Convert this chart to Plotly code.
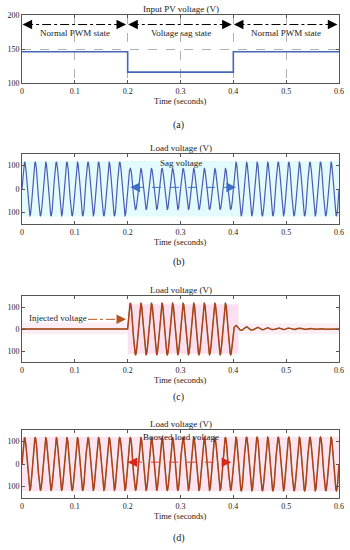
import numpy as np
import plotly.graph_objects as go

# ---------------- data ----------------
T_END = 0.6
FREQ = 50  # Hz
x_ticks = [0, 0.1, 0.2, 0.3, 0.4, 0.5, 0.6]
x_ticktext = ["0", "0.1", "0.2", "0.3", "0.4", "0.5", "0.6"]

# (a) input PV voltage, piecewise constant
a_times = [0.0, 0.2, 0.2, 0.4, 0.4, 0.6]
a_volts = [146, 146, 116, 116, 146, 146]
a_yticks = [100, 150, 200]

# (b) load voltage amplitude per state segment
b_seg_start = [0.0, 0.2, 0.4]
b_seg_end = [0.2, 0.4, 0.6]
b_seg_amp = [115, 88, 115]

# (c) injected voltage: sinusoid during sag, damped ripple afterwards
c_seg_start = [0.0, 0.2]
c_seg_end = [0.2, 0.4]
c_seg_amp = [0, 117]
c_ripple_start = 0.4
c_ripple_peaks = [16, -6, 10, -5, 8, -4, 6, -3, 5, -3, 4, -2, 4, -2, 3, -2, 3, -1, 2, -1]

# (d) boosted load voltage
d_seg_start = [0.0, 0.2, 0.4]
d_seg_end = [0.2, 0.4, 0.6]
d_seg_amp = [116, 116, 118]

v_yticks = [-100, 0, 100]
v_ticktext = ["100", "0", "100"]

# ---------------- helpers ----------------
t = np.linspace(0, T_END, 4801)


def seg_wave(starts, ends, amps):
    v = np.zeros_like(t)
    for s, e, a in zip(starts, ends, amps):
        m = (t >= s) & (t <= e)
        v[m] = a * np.sin(2 * np.pi * FREQ * t[m])
    return v


def ripple(start, peaks):
    v = np.zeros_like(t)
    half = 1.0 / FREQ / 2
    for k, p in enumerate(peaks):
        t0 = start + k * half
        m = (t >= t0) & (t <= t0 + half)
        v[m] = p * np.sin(np.pi * (t[m] - t0) / half)
    return v


b_wave = seg_wave(b_seg_start, b_seg_end, b_seg_amp)
c_wave = seg_wave(c_seg_start, c_seg_end, c_seg_amp) + ripple(c_ripple_start, c_ripple_peaks)
d_wave = seg_wave(d_seg_start, d_seg_end, d_seg_amp)

FONT = "Liberation Serif"
W, H = 350, 550
x0, x1 = 22 / W, 339 / W


def pdom(top_px, bot_px):
    return [1 - bot_px / H, 1 - top_px / H]


panels = {
    1: (15, 83),
    2: (154, 224),
    3: (296, 362),
    4: (430, 498),
}

fig = go.Figure()

# (a)
fig.add_trace(go.Scatter(x=a_times, y=a_volts, mode="lines",
                         line=dict(color="#4668b4", width=1.6), xaxis="x", yaxis="y"))
for s, e in [(0.0, 0.2), (0.2, 0.4), (0.4, 0.6)]:
    fig.add_trace(go.Scatter(x=[s + 0.004, e - 0.004], y=[186, 186], mode="lines",
                             line=dict(color="black", width=1, dash="dashdot"),
                             xaxis="x", yaxis="y"))

# (b)
fig.add_trace(go.Scatter(x=t, y=b_wave, mode="lines",
                         line=dict(color="#4a5cb4", width=1.2), xaxis="x2", yaxis="y2"))
fig.add_trace(go.Scatter(x=[0.212, 0.395], y=[7, 7], mode="lines",
                         line=dict(color="#3f6fc4", width=1, dash="dash"),
                         xaxis="x2", yaxis="y2"))

# (c)
fig.add_trace(go.Scatter(x=t, y=c_wave, mode="lines",
                         line=dict(color="#806018", width=1.5), xaxis="x3", yaxis="y3"))
fig.add_trace(go.Scatter(x=t, y=c_wave, mode="lines",
                         line=dict(color="#d42a1e", width=0.7), xaxis="x3", yaxis="y3"))
fig.add_trace(go.Scatter(x=[0.125, 0.185], y=[44, 44], mode="lines",
                         line=dict(color="#b8541e", width=1, dash="dashdot"),
                         xaxis="x3", yaxis="y3"))

# (d)
fig.add_trace(go.Scatter(x=t, y=d_wave, mode="lines",
                         line=dict(color="#806018", width=1.5), xaxis="x4", yaxis="y4"))
fig.add_trace(go.Scatter(x=t, y=d_wave, mode="lines",
                         line=dict(color="#d42a1e", width=0.7), xaxis="x4", yaxis="y4"))
fig.add_trace(go.Scatter(x=[0.21, 0.385], y=[8, 8], mode="lines",
                         line=dict(color="#e0402a", width=1, dash="dash"),
                         xaxis="x4", yaxis="y4"))

axis_common = dict(showline=True, linecolor="#555555", linewidth=1, mirror="ticks",
                   ticks="inside", ticklen=3, tickcolor="#555555", automargin=False,
                   tickfont=dict(family=FONT, size=8, color="#222"), zeroline=False)

layout = dict(width=W, height=H, margin=dict(l=0, r=0, t=0, b=0, pad=0),
              paper_bgcolor="white", plot_bgcolor="white", showlegend=False,
              font=dict(family=FONT, color="#222"))

for i, (tp, bp) in panels.items():
    xa = "xaxis" if i == 1 else f"xaxis{i}"
    ya = "yaxis" if i == 1 else f"yaxis{i}"
    yname = "y" if i == 1 else f"y{i}"
    xname = "x" if i == 1 else f"x{i}"
    layout[xa] = dict(axis_common, domain=[x0, x1], anchor=yname, range=[0, T_END],
                      tickvals=x_ticks, ticktext=x_ticktext,
                      showgrid=(i == 1), gridcolor="#b0b0b0", griddash="dash", gridwidth=1)
    if i == 1:
        layout[ya] = dict(axis_common, domain=pdom(tp, bp), anchor=xname, range=[100, 200],
                          tickvals=a_yticks, showgrid=True, gridcolor="#b0b0b0",
                          griddash="dash", gridwidth=1)
    else:
        layout[ya] = dict(axis_common, domain=pdom(tp, bp), anchor=xname, range=[-150, 150],
                          tickvals=v_yticks, ticktext=v_ticktext, showgrid=False)

fig.update_layout(**layout)

shapes = [
    dict(type="rect", xref="x2", yref="y2", x0=0, x1=0.6, y0=-118, y1=120,
         fillcolor="#e4fbfe", line_width=0, layer="below"),
    dict(type="rect", xref="x3", yref="y3", x0=0.2, x1=0.41, y0=-112, y1=112,
         fillcolor="#fde0f0", line_width=0, layer="below"),
    dict(type="rect", xref="x3", yref="y3", x0=0.0, x1=0.2, y0=-24, y1=30,
         fillcolor="#fdeef6", line_width=0, layer="below"),
    dict(type="rect", xref="x3", yref="y3", x0=0.41, x1=0.6, y0=-24, y1=26,
         fillcolor="#fdeef6", line_width=0, layer="below"),
    dict(type="rect", xref="x4", yref="y4", x0=0, x1=0.6, y0=-120, y1=120,
         fillcolor="#fde4f1", line_width=0, layer="below"),
]
fig.update_layout(shapes=shapes)


def ytop(px):
    return 1 - px / H


def txt(text, x, y, xref, yref, size):
    return dict(text=text, x=x, y=y, xref=xref, yref=yref, showarrow=False,
                xanchor="center", yanchor="middle", font=dict(family=FONT, size=size, color="#222"))


ann = []
xc_paper = (x0 + x1) / 2
for i, (tp, bp) in panels.items():
    title = "Input PV voltage (V)" if i == 1 else "Load voltage (V)"
    ann.append(txt(title, xc_paper, ytop(tp - 6), "paper", "paper", 9))
    ann.append(txt("Time (seconds)", xc_paper, ytop(bp + 18), "paper", "paper", 8.5))
    cap = ["(a)", "(b)", "(c)", "(d)"][i - 1]
    capy = [125, 262, 397, 538][i - 1]
    ann.append(txt(cap, xc_paper - 0.005, ytop(capy), "paper", "paper", 10))

for xc, s in [(0.1, "Normal PWM state"), (0.3, "Voltage sag state"), (0.5, "Normal PWM state")]:
    ann.append(txt(s, xc, 173, "x", "y", 9))


def head(xr, yr, xh, xt, y, color):
    return dict(text="", x=xh, y=y, ax=xt, ay=y, xref=xr, yref=yr, axref=xr, ayref=yr,
                showarrow=True, arrowhead=2, arrowsize=1.6, arrowwidth=1.2,
                arrowcolor=color, standoff=0, startstandoff=0)


for s, e in [(0.0, 0.2), (0.2, 0.4), (0.4, 0.6)]:
    ann.append(head("x", "y", s + 0.001, s + 0.02, 186, "black"))
    ann.append(head("x", "y", e - 0.003, e - 0.022, 186, "black"))

ann.append(txt("Sag voltage", 0.3, 112, "x2", "y2", 9))
ann.append(head("x2", "y2", 0.205, 0.225, 7, "#3f6fc4"))
ann.append(head("x2", "y2", 0.405, 0.385, 7, "#3f6fc4"))

ann.append(txt("Injected voltage", 0.068, 52, "x3", "y3", 9))
ann.append(head("x3", "y3", 0.197, 0.178, 44, "#b8541e"))

ann.append(txt("Boosted load voltage", 0.3, 118, "x4", "y4", 9))
ann.append(head("x4", "y4", 0.2, 0.22, 8, "#d8261c"))
ann.append(head("x4", "y4", 0.396, 0.376, 8, "#d8261c"))

fig.update_layout(annotations=ann)

fig.write_html("out.html", config={"displayModeBar": False},
               post_script="document.body.style.margin='0px';")
